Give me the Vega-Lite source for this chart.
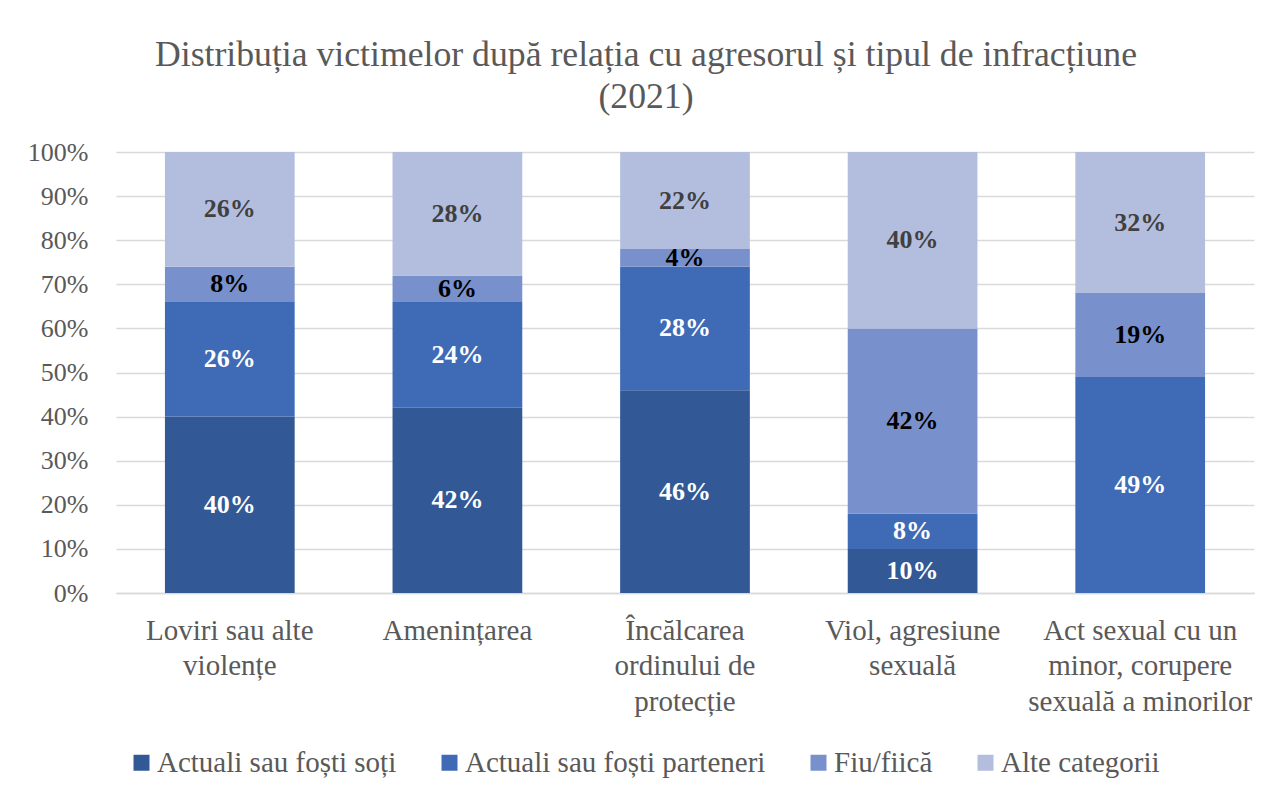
{
  "$schema": "https://vega.github.io/schema/vega-lite/v6.json",
  "width": 1138,
  "height": 441,
  "autosize": {"type": "none"},
  "padding": {"left": 116, "top": 152, "right": 15, "bottom": 206},
  "background": "white",
  "config": {
    "font": "Liberation Serif",
    "view": {"stroke": null}
  },
  "title": {
    "text": ["Distribuția victimelor după relația cu agresorul și tipul de infracțiune", "(2021)"],
    "fontSize": 35.7,
    "fontWeight": "normal",
    "color": "#595959",
    "lineHeight": 42,
    "anchor": "middle",
    "dx": -39,
    "offset": 23
  },
  "data": {
    "values": [
      {"cat": "Loviri sau alte|violențe", "grp": "Actuali sau foști soți", "ord": 1, "v": 0.40},
      {"cat": "Loviri sau alte|violențe", "grp": "Actuali sau foști parteneri", "ord": 2, "v": 0.26},
      {"cat": "Loviri sau alte|violențe", "grp": "Fiu/fiică", "ord": 3, "v": 0.08},
      {"cat": "Loviri sau alte|violențe", "grp": "Alte categorii", "ord": 4, "v": 0.26},
      {"cat": "Amenințarea", "grp": "Actuali sau foști soți", "ord": 1, "v": 0.42},
      {"cat": "Amenințarea", "grp": "Actuali sau foști parteneri", "ord": 2, "v": 0.24},
      {"cat": "Amenințarea", "grp": "Fiu/fiică", "ord": 3, "v": 0.06},
      {"cat": "Amenințarea", "grp": "Alte categorii", "ord": 4, "v": 0.28},
      {"cat": "Încălcarea|ordinului de|protecție", "grp": "Actuali sau foști soți", "ord": 1, "v": 0.46},
      {"cat": "Încălcarea|ordinului de|protecție", "grp": "Actuali sau foști parteneri", "ord": 2, "v": 0.28},
      {"cat": "Încălcarea|ordinului de|protecție", "grp": "Fiu/fiică", "ord": 3, "v": 0.04},
      {"cat": "Încălcarea|ordinului de|protecție", "grp": "Alte categorii", "ord": 4, "v": 0.22},
      {"cat": "Viol, agresiune|sexuală", "grp": "Actuali sau foști soți", "ord": 1, "v": 0.10},
      {"cat": "Viol, agresiune|sexuală", "grp": "Actuali sau foști parteneri", "ord": 2, "v": 0.08},
      {"cat": "Viol, agresiune|sexuală", "grp": "Fiu/fiică", "ord": 3, "v": 0.42},
      {"cat": "Viol, agresiune|sexuală", "grp": "Alte categorii", "ord": 4, "v": 0.40},
      {"cat": "Act sexual cu un|minor, corupere|sexuală a minorilor", "grp": "Actuali sau foști parteneri", "ord": 2, "v": 0.49},
      {"cat": "Act sexual cu un|minor, corupere|sexuală a minorilor", "grp": "Fiu/fiică", "ord": 3, "v": 0.19},
      {"cat": "Act sexual cu un|minor, corupere|sexuală a minorilor", "grp": "Alte categorii", "ord": 4, "v": 0.32}
    ]
  },
  "transform": [
    {"stack": "v", "groupby": ["cat"], "sort": [{"field": "ord", "order": "ascending"}], "as": ["y0", "y1"]},
    {"calculate": "(datum.y0 + datum.y1) / 2", "as": "mid"}
  ],
  "encoding": {
    "x": {
      "field": "cat",
      "type": "nominal",
      "sort": ["Loviri sau alte|violențe", "Amenințarea", "Încălcarea|ordinului de|protecție", "Viol, agresiune|sexuală", "Act sexual cu un|minor, corupere|sexuală a minorilor"],
      "scale": {"paddingInner": 0.43, "paddingOuter": 0.215},
      "axis": {
        "title": null,
        "labelExpr": "split(datum.label, '|')",
        "labelAngle": 0,
        "labelFontSize": 29,
        "labelColor": "#595959",
        "labelLineHeight": 35.5,
        "labelPadding": 23,
        "labelLimit": 400,
        "ticks": false,
        "domain": true,
        "domainColor": "#D9D9D9",
        "domainWidth": 1.5
      }
    }
  },
  "layer": [
    {
      "mark": {"type": "bar"},
      "encoding": {
        "y": {
          "field": "y0",
          "type": "quantitative",
          "scale": {"domain": [0, 1]},
          "axis": {
            "title": null,
            "format": ".0%",
            "values": [0, 0.1, 0.2, 0.3, 0.4, 0.5, 0.6, 0.7, 0.8, 0.9, 1.0],
            "labelFontSize": 26,
            "labelColor": "#595959",
            "labelPadding": 28,
            "ticks": false,
            "domain": false,
            "gridColor": "#D9D9D9",
            "gridWidth": 1.5
          }
        },
        "y2": {"field": "y1"},
        "color": {
          "field": "grp",
          "type": "nominal",
          "scale": {
            "domain": ["Actuali sau foști soți", "Actuali sau foști parteneri", "Fiu/fiică", "Alte categorii"],
            "range": ["#325896", "#3F6AB6", "#7891CD", "#B3BEDF"]
          },
          "legend": {
            "title": null,
            "orient": "none",
            "direction": "horizontal",
            "columns": 4,
            "legendX": 11,
            "legendY": 596,
            "padding": 0,
            "symbolType": "square",
            "symbolSize": 256,
            "symbolStrokeWidth": 0,
            "labelFontSize": 29,
            "labelColor": "#595959",
            "labelOffset": 1,
            "columnPadding": 38,
            "labelLimit": 500
          }
        }
      }
    },
    {
      "mark": {"type": "text", "fontSize": 26, "fontWeight": "bold", "baseline": "middle", "align": "center"},
      "encoding": {
        "y": {"field": "mid", "type": "quantitative"},
        "text": {"field": "v", "type": "quantitative", "format": ".0%"},
        "color": {
          "condition": [
            {"test": "datum.grp == 'Fiu/fiică'", "value": "#000000"},
            {"test": "datum.grp == 'Alte categorii'", "value": "#404040"}
          ],
          "value": "#FFFFFF"
        }
      }
    }
  ]
}
